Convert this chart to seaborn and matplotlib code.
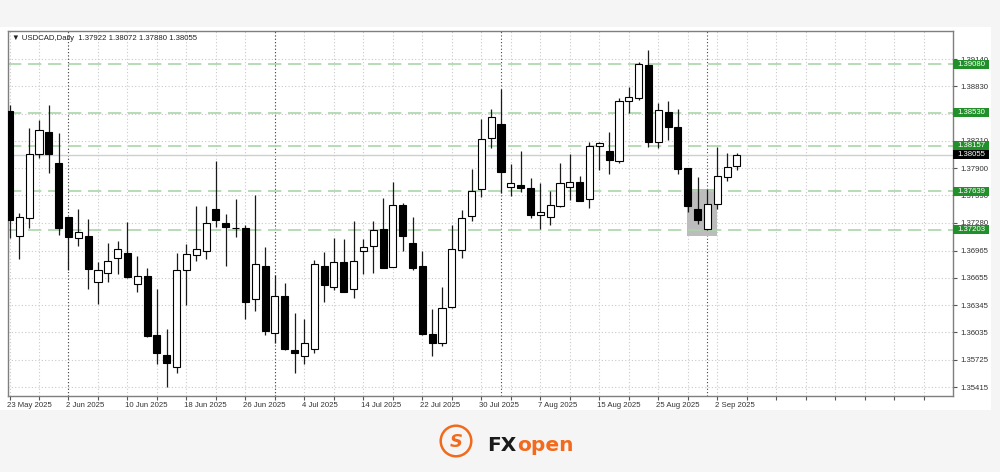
import numpy as np
import pandas as pd
import matplotlib
matplotlib.use("Agg")
import matplotlib.pyplot as plt
import matplotlib.transforms as mtransforms
from matplotlib.patches import Rectangle, Circle
import seaborn as sns

# ---------------- data ----------------
dates = pd.bdate_range("2025-05-23", "2025-09-04")  # daily bars (75)

opens = [1.38553, 1.37133, 1.37331, 1.38058, 1.38308, 1.37962, 1.37346, 1.37111, 1.37130, 1.36611,
         1.36706, 1.36883, 1.36933, 1.36581, 1.36676, 1.36002, 1.35775, 1.35639, 1.36740, 1.36914,
         1.36963, 1.37436, 1.37281, 1.37221, 1.37224, 1.36411, 1.36793, 1.36028, 1.36452, 1.35832,
         1.35767, 1.35850, 1.36793, 1.36551, 1.36831, 1.36525, 1.36956, 1.37016, 1.37206, 1.36781,
         1.37482, 1.37054, 1.36789, 1.36013, 1.35918, 1.36320, 1.36971, 1.37360, 1.37660, 1.38239,
         1.38402, 1.37690, 1.37709, 1.37675, 1.37365, 1.37349, 1.37474, 1.37683, 1.37740, 1.37550,
         1.38152, 1.38099, 1.37985, 1.38660, 1.38694, 1.39072, 1.38201, 1.38535, 1.38371, 1.37899,
         1.37433, 1.37206, 1.37493, 1.37803, 1.37922]
highs = [1.38618, 1.37394, 1.38360, 1.38447, 1.38618, 1.38296, 1.37349, 1.37433, 1.37320, 1.36838,
         1.37047, 1.37076, 1.37292, 1.36906, 1.36763, 1.36525, 1.36070, 1.36933, 1.37039, 1.37471,
         1.37471, 1.37985, 1.37376, 1.37547, 1.37255, 1.37595, 1.37001, 1.36687, 1.36593, 1.36252,
         1.36184, 1.36857, 1.36952, 1.37104, 1.37092, 1.37304, 1.37092, 1.37304, 1.37558, 1.37740,
         1.37501, 1.37349, 1.36963, 1.36297, 1.36554, 1.37255, 1.37425, 1.37891, 1.38455, 1.38569,
         1.38796, 1.37944, 1.38099, 1.37792, 1.37735, 1.37637, 1.37955, 1.38061, 1.37815, 1.38201,
         1.38201, 1.38314, 1.38694, 1.38825, 1.39109, 1.39239, 1.38637, 1.38666, 1.38569, 1.37905,
         1.37797, 1.37660, 1.38144, 1.38076, 1.38072]
lows = [1.37107, 1.36865, 1.37217, 1.38012, 1.37849, 1.37141, 1.36744, 1.37016, 1.36531, 1.36354,
        1.36604, 1.36702, 1.36650, 1.36494, 1.35980, 1.35673, 1.35412, 1.35571, 1.36346, 1.36846,
        1.36865, 1.37235, 1.36789, 1.37122, 1.36184, 1.36278, 1.36006, 1.35918, 1.35835, 1.35577,
        1.35676, 1.35804, 1.36384, 1.36517, 1.36490, 1.36422, 1.36702, 1.36706, 1.36765, 1.36775,
        1.36963, 1.36744, 1.36010, 1.35767, 1.35881, 1.36315, 1.36883, 1.37304, 1.37576, 1.38133,
        1.37622, 1.37584, 1.37633, 1.37331, 1.37209, 1.37255, 1.37463, 1.37539, 1.37525, 1.37451,
        1.37879, 1.37831, 1.37962, 1.38530, 1.38674, 1.38144, 1.38126, 1.38220, 1.37834, 1.37406,
        1.37266, 1.37195, 1.37436, 1.37754, 1.37880]
closes = [1.37312, 1.37349, 1.38061, 1.38330, 1.38061, 1.37224, 1.37122, 1.37172, 1.36752, 1.36740,
          1.36849, 1.36979, 1.36661, 1.36679, 1.35994, 1.35798, 1.35691, 1.36740, 1.36922, 1.36979,
          1.37274, 1.37308, 1.37232, 1.37218, 1.36384, 1.36808, 1.36051, 1.36452, 1.35843, 1.35801,
          1.35911, 1.36815, 1.36570, 1.36831, 1.36497, 1.36849, 1.37005, 1.37198, 1.36770, 1.37479,
          1.37130, 1.36770, 1.36017, 1.35918, 1.36309, 1.36979, 1.37338, 1.37644, 1.38228, 1.38478,
          1.37853, 1.37728, 1.37675, 1.37365, 1.37399, 1.37482, 1.37735, 1.37740, 1.37531, 1.38152,
          1.38183, 1.37990, 1.38663, 1.38712, 1.39080, 1.38201, 1.38561, 1.38371, 1.37891, 1.37474,
          1.37308, 1.37493, 1.37815, 1.37917, 1.38055]

levels = [1.39080, 1.38530, 1.38157, 1.37639, 1.37203]
current_price = 1.38055
y_ticks = [1.39140, 1.38830, 1.38520, 1.38210, 1.37900, 1.37590, 1.37280,
           1.36965, 1.36655, 1.36345, 1.36035, 1.35725, 1.35415]
hidden_tick_labels = [1.38520]   # fully covered by a level box in the reference
month_starts = ["2025-06-02", "2025-07-01", "2025-08-01", "2025-09-01"]
highlight_dates = ("2025-08-28", "2025-09-02")
highlight_prices = (1.37133, 1.37664)
header = "\u25BC USDCAD,Daily  1.37922 1.38072 1.37880 1.38055"

# ---------------- style ----------------
sns.set_theme(style="white")
plt.rcParams["font.family"] = ["Liberation Sans", "DejaVu Sans"]

df = pd.DataFrame({"date": dates, "open": opens, "high": highs, "low": lows, "close": closes})
df["i"] = np.arange(len(df))
df["up"] = df["close"] >= df["open"]

W, H = 1000, 472
fig = plt.figure(figsize=(W / 100, H / 100), dpi=100)
fig.patch.set_facecolor("#f5f5f5")
fig.add_artist(Rectangle((0, 1 - 410 / H), 991 / W, (410 - 27) / H,
                         transform=fig.transFigure, facecolor="white", edgecolor="none", zorder=0))

AX_W_PX, AX_H_PX = 945, 365
ax = fig.add_axes([8 / W, 1 - 396 / H, AX_W_PX / W, AX_H_PX / H])
ax.set_facecolor("white")

# grid
for yt in y_ticks:
    ax.axhline(yt, color="#c9c9c9", lw=0.8, ls=(0, (1, 2)), zorder=0.5)
for xi in range(0, 96, 3):
    ax.axvline(xi, color="#c9c9c9", lw=0.8, ls=(0, (1, 2)), zorder=0.5)
date_index = {d.strftime("%Y-%m-%d"): k for k, d in enumerate(dates)}
for m in month_starts:
    ax.axvline(date_index[m], color="#444444", lw=0.8, ls=(0, (1, 2)), zorder=0.6)

# highlight box
hx0 = date_index[highlight_dates[0]] - 0.1
hx1 = date_index[highlight_dates[1]]
ax.add_patch(Rectangle((hx0, highlight_prices[0]), hx1 - hx0, highlight_prices[1] - highlight_prices[0],
                       facecolor="#bcbcbc", edgecolor="none", zorder=1))

# level lines
ax.axhline(current_price, color="#cfcfcf", lw=1.0, zorder=1.2)
for lv in levels:
    ax.axhline(lv, color="#a9d6a9", lw=1.2, dashes=(8, 4), zorder=1.3)

# candles: wicks + bodies
ax.vlines(df["i"], df["low"], df["high"], color="#1a1a1a", lw=0.9, zorder=2)
body_bottom = np.minimum(df["open"], df["close"])
body_h = np.maximum(np.abs(df["close"] - df["open"]), 0.00003)
ax.bar(df["i"], body_h, bottom=body_bottom, width=0.72,
       color=np.where(df["up"], "white", "black"), edgecolor="black", linewidth=0.8, zorder=3)

ylo, yhi = 1.35313, 1.39458
ax.set_xlim(-0.153, 95.98)
ax.set_ylim(ylo, yhi)

# axes / ticks
for s in ax.spines.values():
    s.set_color("#7f7f7f")
    s.set_linewidth(1.0)
ax.yaxis.tick_right()
ax.set_yticks(y_ticks)
ax.set_yticklabels(["" if v in hidden_tick_labels else f"{v:.5f}" for v in y_ticks])
ax.tick_params(axis="y", which="major", direction="out", length=3, width=0.8, color="#555555",
               pad=2, labelsize=5.6, labelcolor="#333333", right=True, left=False)
major_idx = list(range(0, len(dates), 6))
ax.set_xticks(major_idx)
ax.set_xticklabels([f"{dates[k].day} {dates[k].strftime('%b %Y')}" for k in major_idx])
ax.set_xticks(list(range(0, 96, 3)), minor=True)
ax.tick_params(axis="x", which="both", direction="out", length=3, width=0.8, color="#555555",
               pad=1.5, labelsize=5.6, labelcolor="#333333", bottom=True)
offset = mtransforms.ScaledTranslation(-1.5 / 72, 0, fig.dpi_scale_trans)
for lbl in ax.get_xticklabels():
    lbl.set_horizontalalignment("left")
    lbl.set_transform(lbl.get_transform() + offset)
ax.grid(False)

# price boxes on right axis
trans = mtransforms.blended_transform_factory(ax.transAxes, ax.transData)
px_price = (yhi - ylo) / AX_H_PX
box_w = 36 / AX_W_PX
box_h = 9 * px_price


def price_box(value, color, z):
    ax.add_patch(Rectangle((1.0, value - box_h / 2), box_w, box_h, transform=trans,
                           facecolor=color, edgecolor="none", clip_on=False, zorder=z))
    ax.text(1 + 4 / AX_W_PX, value, f"{value:.5f}", transform=trans, ha="left", va="center",
            fontsize=5.6, color="white", clip_on=False, zorder=z + 0.5)


for lv in levels:
    price_box(lv, "#22902a", 10)
price_box(current_price, "black", 11)

# header
ax.text(4 / AX_W_PX, 1 - 8 / AX_H_PX, header, transform=ax.transAxes, ha="left", va="center",
        fontsize=5.6, color="#222222", zorder=12)

# logo
lax = fig.add_axes([439 / W, 1 - 458 / H, 34 / W, 34 / H])
lax.set_xlim(-1, 1)
lax.set_ylim(-1, 1)
lax.axis("off")
lax.add_patch(Circle((0, 0), 0.9, fill=False, edgecolor="#f26a1b", lw=1.8))
lax.text(0, -0.05, "S", ha="center", va="center", fontsize=13, fontweight="bold", color="#f26a1b",
         family="DejaVu Sans", style="italic")
t_fx = fig.text(487 / W, 1 - 451 / H, "FX", fontsize=14.5, fontweight="bold", color="#1a1a1a",
                family="DejaVu Sans", va="baseline", ha="left")
fig.canvas.draw()
bb = t_fx.get_window_extent(renderer=fig.canvas.get_renderer())
fig.text((bb.x1 + 1) / W, 1 - 451 / H, "open", fontsize=14.5, fontweight="bold", color="#f26a1b",
         family="DejaVu Sans", va="baseline", ha="left")

fig.savefig("out.png", dpi=100, facecolor=fig.get_facecolor())
